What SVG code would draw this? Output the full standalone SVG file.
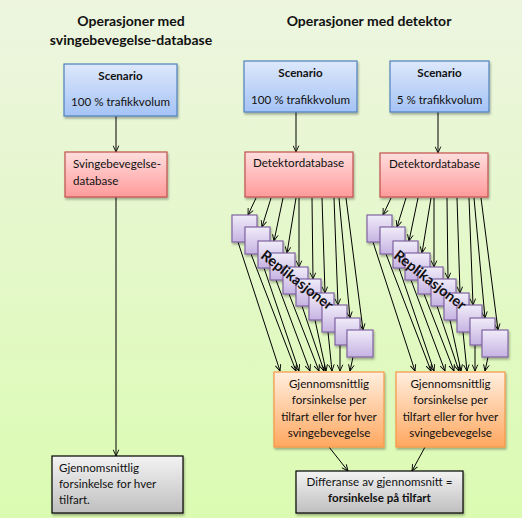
<svg xmlns="http://www.w3.org/2000/svg" width="522" height="518" viewBox="0 0 522 518">
<defs>
<linearGradient id="bg" x1="0" y1="0" x2="0" y2="1"><stop offset="0" stop-color="#edf5e0"/><stop offset="1" stop-color="#dbfbb2"/></linearGradient>
<linearGradient id="gBlue" x1="0" y1="0" x2="0" y2="1"><stop offset="0" stop-color="#dde8fb"/><stop offset="1" stop-color="#a5c3f5"/></linearGradient>
<linearGradient id="gPink" x1="0" y1="0" x2="0" y2="1"><stop offset="0" stop-color="#ffdede"/><stop offset="1" stop-color="#ff9a9a"/></linearGradient>
<linearGradient id="gOrange" x1="0" y1="0" x2="0" y2="1"><stop offset="0" stop-color="#ffeede"/><stop offset="1" stop-color="#ffa860"/></linearGradient>
<linearGradient id="gGray" x1="0" y1="0" x2="0" y2="1"><stop offset="0" stop-color="#f3f3f3"/><stop offset="1" stop-color="#bfbfbf"/></linearGradient>
<linearGradient id="gPurple" x1="0" y1="0" x2="0" y2="1"><stop offset="0" stop-color="#f0ecf9"/><stop offset="1" stop-color="#c6b3e2"/></linearGradient>
<filter id="sh" x="-10%" y="-10%" width="130%" height="130%"><feDropShadow dx="1" dy="2" stdDeviation="1" flood-color="#000" flood-opacity="0.3"/></filter>
<marker id="arr" viewBox="0 0 10 10" refX="10" refY="5" markerWidth="7" markerHeight="7" markerUnits="userSpaceOnUse" orient="auto"><path d="M1,1 L10,5 L1,9" fill="none" stroke="#000" stroke-width="1.3"/></marker>
</defs>
<style>
text{font-family:Lato,"Liberation Sans",sans-serif;fill:#111}
.t{font-size:14px;font-weight:bold;text-anchor:middle}
.c{font-size:11.6px;text-anchor:middle}
.b{font-weight:bold}
.l{font-size:11.6px}
.blue{fill:url(#gBlue);stroke:#4f81bd;stroke-width:1.2;filter:url(#sh)}
.pink{fill:url(#gPink);stroke:#c0504d;stroke-width:1.2;filter:url(#sh)}
.orange{fill:url(#gOrange);stroke:#f79646;stroke-width:1.2;filter:url(#sh)}
.gray{fill:url(#gGray);stroke:#000;stroke-width:1.2;filter:url(#sh)}
.sq{fill:url(#gPurple);stroke:#8064a2;stroke-width:1.2;filter:url(#sh)}
.cn line{stroke:#000;stroke-width:1;marker-end:url(#arr)}
.rep{font-size:14.5px;font-weight:bold;text-anchor:middle}
</style>
<rect x="0" y="0" width="522" height="518" fill="url(#bg)"/>
<g id="title-left">
<text class="t" x="131" y="26">Operasjoner med</text>
<text class="t" x="131" y="45">svingebevegelse-database</text>
</g>
<g id="title-right"><text class="t" x="369" y="26">Operasjoner med detektor</text></g>

<g id="connectors" class="cn">
<line x1="116" y1="116" x2="116" y2="152"/>
<line x1="296" y1="112" x2="296" y2="152"/>
<line x1="438" y1="112" x2="438" y2="153"/>
<line x1="116" y1="197" x2="116" y2="456"/>
<line x1="329" y1="447" x2="348" y2="471"/>
<line x1="425" y1="447" x2="412" y2="471"/>
<line x1="256" y1="198" x2="248" y2="215"/>
<line x1="271" y1="198" x2="262" y2="227"/>
<line x1="283" y1="198" x2="274" y2="241"/>
<line x1="296" y1="198" x2="287" y2="253"/>
<line x1="299" y1="198" x2="299" y2="267"/>
<line x1="312" y1="198" x2="313" y2="279"/>
<line x1="322" y1="198" x2="325" y2="293"/>
<line x1="334" y1="198" x2="338" y2="305"/>
<line x1="339" y1="198" x2="350" y2="318"/>
<line x1="346" y1="198" x2="363" y2="330"/>
<line x1="238" y1="242" x2="280" y2="371"/>
<line x1="251" y1="254" x2="296" y2="371"/>
<line x1="264" y1="268" x2="299" y2="371"/>
<line x1="276" y1="280" x2="310" y2="371"/>
<line x1="289" y1="294" x2="319" y2="371"/>
<line x1="302" y1="306" x2="324" y2="371"/>
<line x1="315" y1="320" x2="326" y2="371"/>
<line x1="328" y1="332" x2="332" y2="371"/>
<line x1="340" y1="345" x2="340" y2="371"/>
<line x1="353" y1="357" x2="350" y2="371"/>
<line x1="391" y1="198" x2="383" y2="215"/>
<line x1="406" y1="198" x2="397" y2="227"/>
<line x1="418" y1="198" x2="409" y2="241"/>
<line x1="431" y1="198" x2="422" y2="253"/>
<line x1="434" y1="198" x2="434" y2="267"/>
<line x1="447" y1="198" x2="448" y2="279"/>
<line x1="457" y1="198" x2="460" y2="293"/>
<line x1="469" y1="198" x2="473" y2="305"/>
<line x1="474" y1="198" x2="485" y2="318"/>
<line x1="481" y1="198" x2="498" y2="330"/>
<line x1="373" y1="242" x2="415" y2="371"/>
<line x1="386" y1="254" x2="431" y2="371"/>
<line x1="399" y1="268" x2="434" y2="371"/>
<line x1="411" y1="280" x2="445" y2="371"/>
<line x1="424" y1="294" x2="454" y2="371"/>
<line x1="437" y1="306" x2="459" y2="371"/>
<line x1="450" y1="320" x2="461" y2="371"/>
<line x1="463" y1="332" x2="467" y2="371"/>
<line x1="475" y1="345" x2="475" y2="371"/>
<line x1="488" y1="357" x2="485" y2="371"/>
</g>

<g id="scenario-1"><rect class="blue" x="64" y="64" width="113" height="52"/>
<text class="c b" x="120.5" y="80">Scenario</text><text class="c" x="120.5" y="106">100 % trafikkvolum</text></g>
<g id="scenario-2"><rect class="blue" x="244" y="61" width="113" height="51"/>
<text class="c b" x="300.5" y="77">Scenario</text><text class="c" x="300.5" y="104">100 % trafikkvolum</text></g>
<g id="scenario-3"><rect class="blue" x="390" y="61" width="99" height="51"/>
<text class="c b" x="439.5" y="77">Scenario</text><text class="c" x="439.5" y="104">5 % trafikkvolum</text></g>

<g id="svingebevegelse-database"><rect class="pink" x="65" y="152" width="102" height="45"/>
<text class="l" x="73" y="168">Svingebevegelse-</text><text class="l" x="73" y="185">database</text></g>
<g id="detektordatabase-1"><rect class="pink" x="245" y="152" width="108" height="45"/>
<text class="l" x="253" y="167">Detektordatabase</text></g>
<g id="detektordatabase-2"><rect class="pink" x="380" y="153" width="108" height="44"/>
<text class="l" x="389" y="168">Detektordatabase</text></g>

<g id="replikasjoner-1">
<rect class="sq" x="232" y="215" width="25" height="27"/>
<rect class="sq" x="245" y="227" width="25" height="27"/>
<rect class="sq" x="258" y="241" width="25" height="27"/>
<rect class="sq" x="270" y="253" width="25" height="27"/>
<rect class="sq" x="283" y="267" width="25" height="27"/>
<rect class="sq" x="296" y="279" width="25" height="27"/>
<rect class="sq" x="309" y="293" width="25" height="27"/>
<rect class="sq" x="322" y="305" width="25" height="27"/>
<rect class="sq" x="335" y="318" width="25" height="27"/>
<rect class="sq" x="347" y="330" width="26" height="27"/>
<text class="rep" transform="translate(297,280) rotate(38)" x="0" y="5">Replikasjoner</text>
</g>
<g id="replikasjoner-2">
<rect class="sq" x="367" y="215" width="25" height="27"/>
<rect class="sq" x="380" y="227" width="25" height="27"/>
<rect class="sq" x="393" y="241" width="25" height="27"/>
<rect class="sq" x="405" y="253" width="25" height="27"/>
<rect class="sq" x="418" y="267" width="25" height="27"/>
<rect class="sq" x="431" y="279" width="25" height="27"/>
<rect class="sq" x="444" y="293" width="25" height="27"/>
<rect class="sq" x="457" y="305" width="25" height="27"/>
<rect class="sq" x="470" y="318" width="25" height="27"/>
<rect class="sq" x="482" y="330" width="26" height="27"/>
<text class="rep" transform="translate(430,280) rotate(38)" x="0" y="5">Replikasjoner</text>
</g>

<g id="gjennomsnitt-1"><rect class="orange" x="274" y="372" width="110" height="75"/>
<text class="c" x="329" y="388">Gjennomsnittlig</text><text class="c" x="329" y="404">forsinkelse per</text><text class="c" x="329" y="421">tilfart eller for hver</text><text class="c" x="329" y="437">svingebevegelse</text></g>
<g id="gjennomsnitt-2"><rect class="orange" x="396" y="372" width="109" height="75"/>
<text class="c" x="450.5" y="388">Gjennomsnittlig</text><text class="c" x="450.5" y="404">forsinkelse per</text><text class="c" x="450.5" y="421">tilfart eller for hver</text><text class="c" x="450.5" y="437">svingebevegelse</text></g>

<g id="resultat-1"><rect class="gray" x="52" y="456" width="131" height="57"/>
<text class="l" x="59" y="472">Gjennomsnittlig</text><text class="l" x="59" y="488">forsinkelse for hver</text><text class="l" x="59" y="504">tilfart.</text></g>
<g id="differanse"><rect class="gray" x="296" y="471" width="167" height="42"/>
<text class="c" x="379.5" y="486">Differanse av gjennomsnitt =</text><text class="c b" x="379.5" y="502">forsinkelse på tilfart</text></g>
</svg>
